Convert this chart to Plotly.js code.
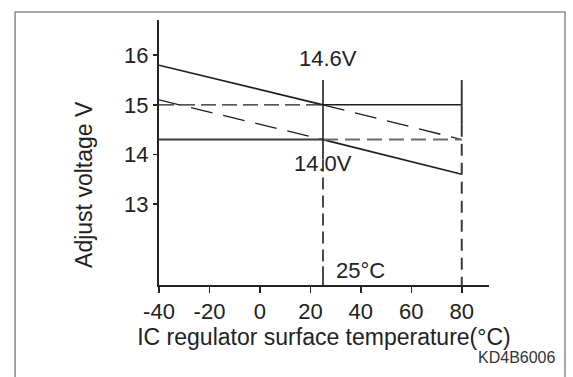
<!DOCTYPE html>
<html>
<head>
<meta charset="utf-8">
<script src="https://cdn.plot.ly/plotly-3.0.1.min.js"></script>
<style>
  html, body { margin: 0; padding: 0; background: #fff; }
  #chart { width: 573px; height: 377px; }
</style>
</head>
<body>
<div id="chart"></div>
<script>
// ---- data ----
const tempPoints = [-40, 25, 80];          // °C
const upperLine = [15.8, 15.0, 14.3];      // V
const lowerLine = [15.1, 14.3, 13.6];      // V
const refHigh = 15.0;                      // V
const refLow = 14.3;                       // V
const markerTemps = [25, 80];              // vertical reference temperatures
const markerTop = 15.5;                    // V, top of vertical reference lines
const xTickVals = [-40, -20, 0, 20, 40, 60, 80];
const xTickText = ['-40', '-20', '0', '20', '40', '60', '80'];
const yTickVals = [13, 14, 15, 16];
const yTickText = ['13', '14', '15', '16'];
const xRange = [-40, 90.8];
const yRange = [11.37, 16.71];

const ink = '#1e1e1e';
const fontFam = '"Liberation Sans", Arial, Helvetica, sans-serif';

function seg(x, y, color, width, dash) {
  return { x: x, y: y, type: 'scatter', mode: 'lines', cliponaxis: false,
           line: { color: color, width: width, dash: dash || 'solid' }, hoverinfo: 'skip' };
}

const traces = [
  // upper sloped line: solid left of 25°C, dashed right of it
  seg(tempPoints.slice(0, 2), upperLine.slice(0, 2), ink, 1.6),
  seg(tempPoints.slice(1, 3), upperLine.slice(1, 3), ink, 1.3, '22px,11px'),
  // lower sloped line: dashed left of 25°C, solid right of it
  seg(tempPoints.slice(0, 2), lowerLine.slice(0, 2), ink, 1.3, '22px,11px'),
  seg(tempPoints.slice(1, 3), lowerLine.slice(1, 3), ink, 1.6),
  // horizontal 15 V reference: dashed then solid
  seg([tempPoints[0], tempPoints[1]], [refHigh, refHigh], ink, 1.3, '15px,6px'),
  seg([tempPoints[1], tempPoints[2]], [refHigh, refHigh], ink, 1.5),
  // horizontal 14.3 V reference: solid then dashed
  seg([tempPoints[0], tempPoints[1]], [refLow, refLow], '#3a3a3a', 2),
  seg([tempPoints[1], tempPoints[2]], [refLow, refLow], '#6a6a6a', 2, '15px,7px'),
  // vertical at 25°C
  seg([markerTemps[0], markerTemps[0]], [markerTop, 13.9], ink, 1.6),
  seg([markerTemps[0], markerTemps[0]], [13.9, 11.75], ink, 1.6, '12px,6px'),
  seg([markerTemps[0], markerTemps[0]], [11.75, yRange[0]], ink, 1.6),
  // vertical at 80°C
  seg([markerTemps[1], markerTemps[1]], [markerTop, 14.6], '#3a3a3a', 2),
  seg([markerTemps[1], markerTemps[1]], [14.6, yRange[0]], '#3a3a3a', 2, '12px,7px')
];

const layout = {
  width: 573, height: 377,
  margin: { l: 159, r: 84, t: 20, b: 92 },
  paper_bgcolor: '#ffffff', plot_bgcolor: '#ffffff',
  showlegend: false, hovermode: false,
  font: { family: fontFam, size: 22, color: '#222' },
  xaxis: {
    range: xRange, tickmode: 'array', tickvals: xTickVals, ticktext: xTickText,
    showgrid: false, zeroline: false, showline: true, linecolor: '#222', linewidth: 2,
    ticks: 'outside', ticklen: 6, tickwidth: 1.5, tickcolor: '#222',
    tickfont: { family: fontFam, size: 22, color: '#222' },
    title: { text: 'IC regulator surface temperature(°C)', font: { family: fontFam, size: 23, color: '#222' }, standoff: 5 },
    automargin: false, fixedrange: true
  },
  yaxis: {
    range: yRange, tickmode: 'array', tickvals: yTickVals, ticktext: yTickText,
    showgrid: false, zeroline: false, showline: true, linecolor: '#222', linewidth: 2,
    ticks: 'outside', ticklen: 4, tickwidth: 1.5, tickcolor: '#222',
    tickfont: { family: fontFam, size: 22, color: '#222' },
    automargin: false, fixedrange: true
  },
  annotations: [
    { x: -0.227, y: 0.378, xref: 'paper', yref: 'paper', text: 'Adjust voltage V', textangle: -90,
      showarrow: false, xanchor: 'center', yanchor: 'middle',
      font: { family: fontFam, size: 23, color: '#222' } },
    { x: 26.8, y: 15.93, xref: 'x', yref: 'y', text: '14.6V', showarrow: false,
      xanchor: 'center', yanchor: 'middle', font: { family: fontFam, size: 22, color: '#222' } },
    { x: 25.0, y: 13.81, xref: 'x', yref: 'y', text: '14.0V', showarrow: false,
      xanchor: 'center', yanchor: 'middle', font: { family: fontFam, size: 22, color: '#222' } },
    { x: 39.9, y: 11.67, xref: 'x', yref: 'y', text: '25°C', showarrow: false,
      xanchor: 'center', yanchor: 'middle', font: { family: fontFam, size: 22, color: '#222' } },
    { x: 1.206, y: -0.2725, xref: 'paper', yref: 'paper', text: 'KD4B6006', showarrow: false,
      xanchor: 'right', yanchor: 'middle', font: { family: fontFam, size: 16, color: '#333' } }
  ],
  shapes: [
    { type: 'path', xref: 'paper', yref: 'paper',
      path: 'M -0.436 -0.36 L -0.436 1.030 L 1.2303 1.030 L 1.2303 -0.36',
      line: { color: '#8a8a8a', width: 1.5 } }
  ]
};

Plotly.newPlot('chart', traces, layout, { staticPlot: true, displayModeBar: false });
</script>
</body>
</html>
